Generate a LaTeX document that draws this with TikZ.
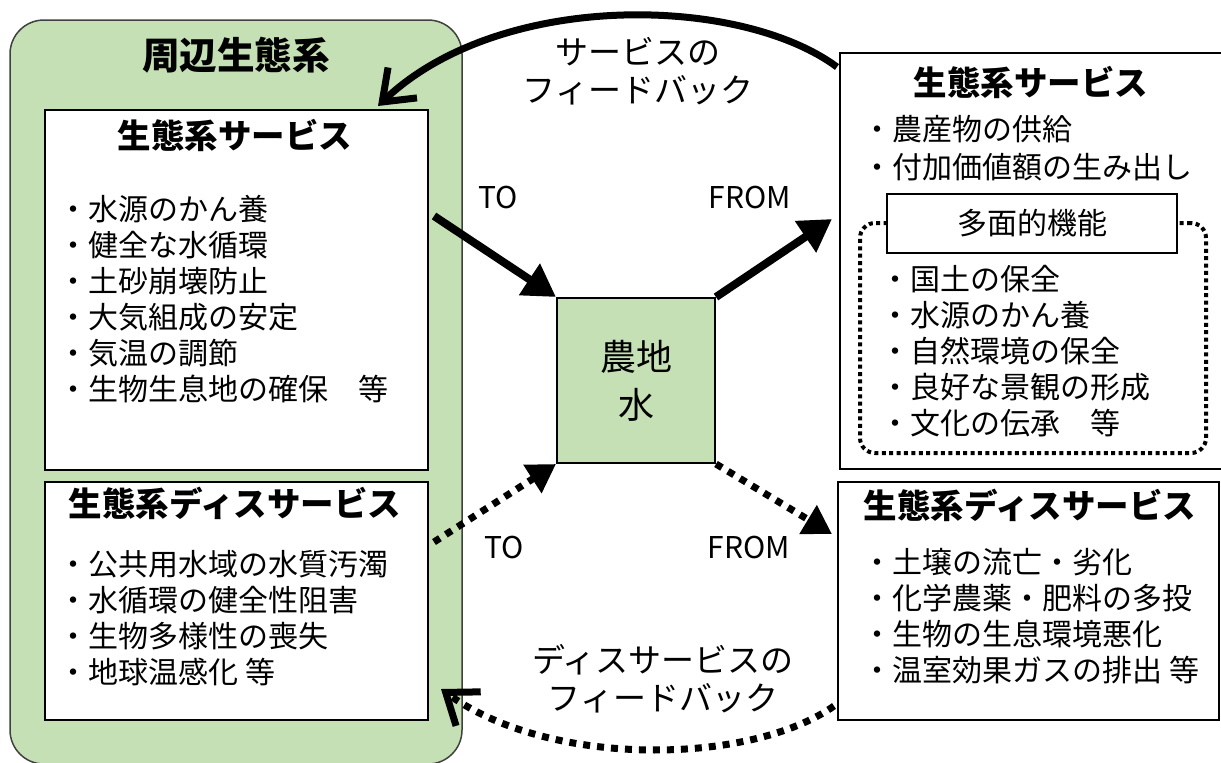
\documentclass[tikz,border=0pt]{standalone}
\usepackage{fontspec}
\setmainfont{Noto Sans CJK JP}
\usetikzlibrary{arrows.meta,calc}
\definecolor{leafgreen}{HTML}{C5E0B4}
\tikzset{box/.style={draw, line width=1pt, fill=white, inner sep=0pt},
	head/.style={font=\bfseries\fontsize{16.75}{20}\selectfont, inner sep=0pt},
	items/.style={font=\fontsize{15}{18}\selectfont, align=left, anchor=north west, inner sep=0pt},
	arrow/.style={line width=4pt, -{Triangle[length=16pt,width=18pt]}},
	dotarrow/.style={line width=3.5pt, dash pattern=on 3.5pt off 3.5pt, -{Triangle[length=14pt,width=16pt]}},
	feedback/.style={line width=3.5pt, -{Straight Barb[length=14pt,width=21pt]}}}

\begin{document}
\begin{tikzpicture}[x=.5pt,y=-.5pt]
		\useasboundingbox (0,0) rectangle (1221,762);
		
		% surrounding ecosystem
		\node[draw=black!75, line width=.75pt, fill=leafgreen, rounded corners=17pt, minimum width=226pt, minimum height=372pt] (region) at (236,392) {};
		\node[font=\bfseries\fontsize{18.8}{22}\selectfont, inner sep=0pt] (regiontitle) at (236,55) {周辺生態系};
		
		% boxes
		\node[box, minimum width=191.5pt, minimum height=180pt] (ltop) at (236.5,290) {};
		\node[box, minimum width=191.5pt, minimum height=119pt] (lbot) at (236.5,601) {};
		\node[box, minimum width=192.5pt, minimum height=208pt] (rtop) at (1032.5,261) {};
		\node[box, minimum width=190.5pt, minimum height=119pt] (rbot) at (1028.5,601) {};
		\node[draw, line width=1pt, fill=leafgreen, minimum width=79pt, minimum height=82.5pt, align=center, font=\fontsize{18}{24}\selectfont] (farm) at (636,380.5) {農地\\水};
		
		% titles
		\node[head] (ltoptitle) at (235,135) {生態系サービス};
		\node[head] (lbottitle) at (235,503) {生態系ディスサービス};
		\node[head] (rtoptitle) at (1031,82) {生態系サービス};
		\node[head] (rbottitle) at (1030,505) {生態系ディスサービス};
		
		% lists
		\node[items] (ltoplist) at (58,195) {・水源のかん養\\・健全な水循環\\・土砂崩壊防止\\・大気組成の安定\\・気温の調節\\・生物生息地の確保　等};
		\node[items] (lbotlist) at (58,550) {・公共用水域の水質汚濁\\・水循環の健全性阻害\\・生物多様性の喪失\\・地球温感化 等};
		\node[items, font=\fontsize{15}{19}\selectfont] (rtoplist) at (862,115) {・農産物の供給\\・付加価値額の生み出し};
		\node[items] (rbotlist) at (862,548) {・土壌の流亡・劣化\\・化学農薬・肥料の多投\\・生物の生息環境悪化\\・温室効果ガスの排出 等};
		
		% multifunctionality
		\node[draw, line width=2pt, dash pattern=on 2pt off 1.7pt, rounded corners=7.5pt, minimum width=173pt, minimum height=115pt] (multiarea) at (1033,338) {};
		\node[box, minimum width=145pt, minimum height=29.5pt, font=\fontsize{15}{18}\selectfont] (multi) at (1032,223.5) {多面的機能};
		\node[items] (multilist) at (880,265) {・国土の保全\\・水源のかん養\\・自然環境の保全\\・良好な景観の形成\\・文化の伝承　等};
		
		% labels
		\node[font=\fontsize{16.5}{19}\selectfont, align=center] (fbtop) at (638,71) {サービスの\\フィードバック};
		\node[font=\fontsize{16.5}{19}\selectfont, align=center] (fbbot) at (663,679) {ディスサービスの\\フィードバック};
		\node[font=\fontsize{15}{18}\selectfont] (totop) at (498,197) {TO};
		\node[font=\fontsize{15}{18}\selectfont] (fromtop) at (750,197) {FROM};
		\node[font=\fontsize{15}{18}\selectfont] (tobot) at (504,547) {TO};
		\node[font=\fontsize{15}{18}\selectfont] (frombot) at (749,547) {FROM};
		
		% connectors
		\draw[arrow] ($(ltop.north east)+(5,107)$) -- (farm.north west);
		\draw[arrow] (farm.north east) -- ($(rtop.north west)+(-7,167)$);
		\draw[dotarrow] ($(lbot.north east)+(5,61)$) -- (farm.south west);
		\draw[dotarrow] (farm.south east) -- ($(rbot.north west)+(-5,53)$);
		\draw[feedback] ($(rtop.north west)+(-2,15)$) .. controls (740,-5) and (500,-10) .. ($(ltop.north east)+(-51,-3)$);
		\draw[feedback, dash pattern=on 3.5pt off 3.5pt] ($(rbot.north west)+(-3,225)$) .. controls (750,765) and (550,768) .. ($(lbot.north east)+(12,208)$);
	\end{tikzpicture}
\end{document}
